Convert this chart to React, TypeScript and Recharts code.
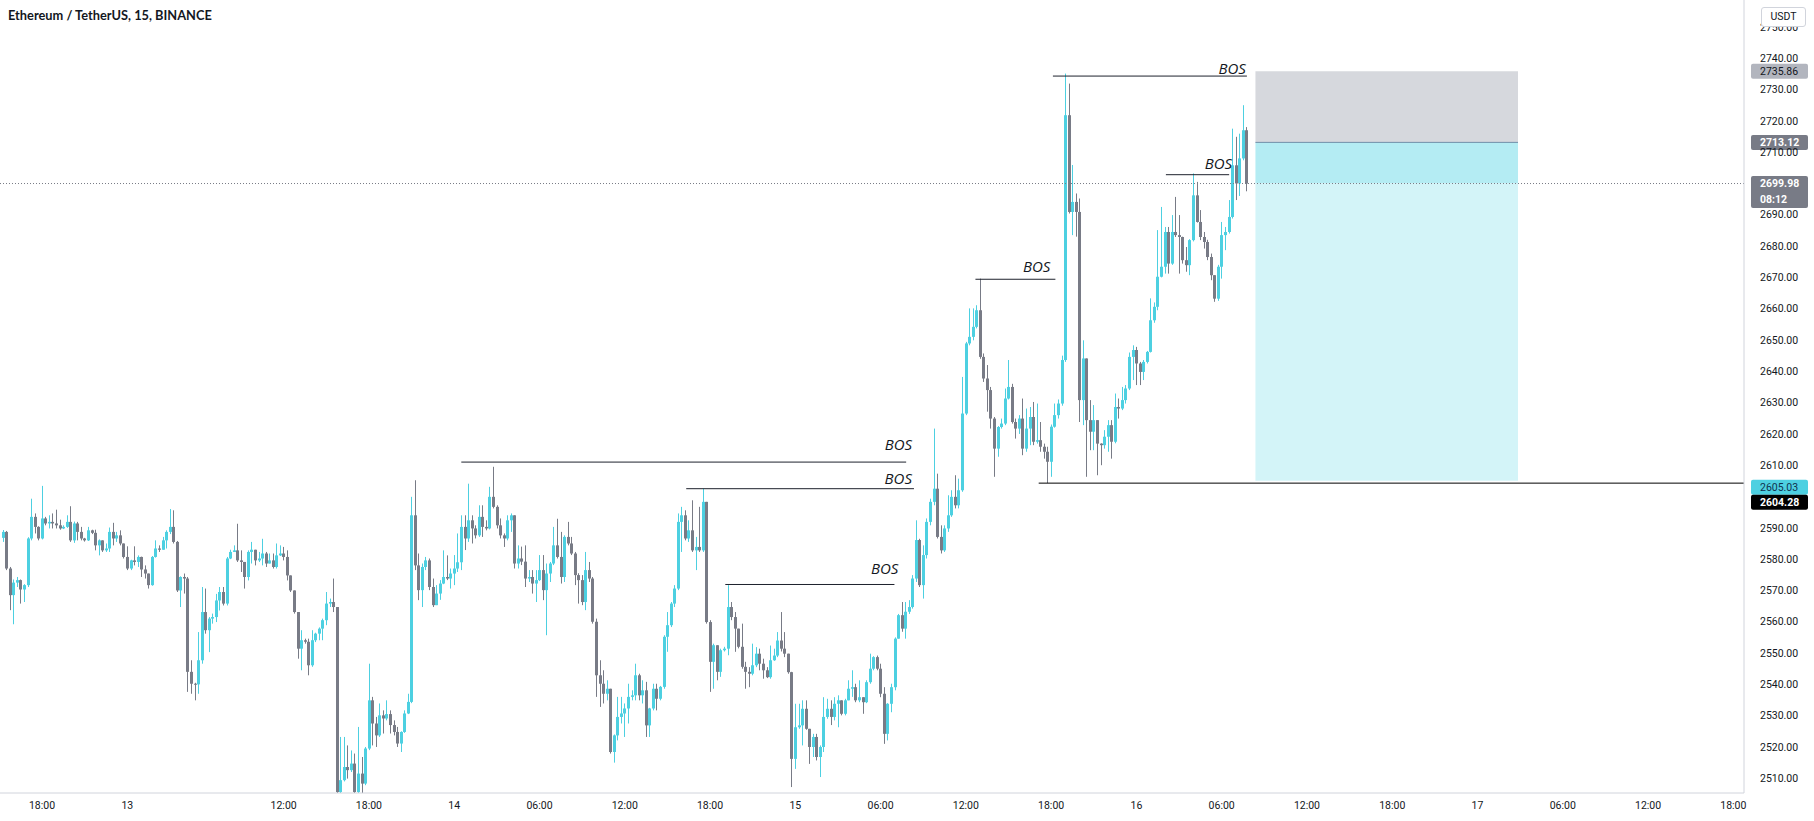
import { ComposedChart, Bar, XAxis, YAxis, ReferenceLine, ReferenceArea } from 'recharts';

// ETH/USDT 15m candles, one slot per candle (open = previous close)
const FIRST_OPEN = 2586.8;

const closes = [
  2588.7, 2577.0, 2568.5, 2572.5, 2573.3, 2570.3, 2571.7, 2586.6, 2593.5, 2590.3,
  2586.6, 2593.0, 2591.4, 2591.9, 2591.4, 2590.8, 2589.8, 2590.3, 2591.9, 2586.0,
  2591.4, 2588.7, 2586.6, 2586.0, 2589.2, 2588.4, 2584.4, 2586.0, 2582.8, 2583.4,
  2588.7, 2586.6, 2587.6, 2585.0, 2580.7, 2577.0, 2579.6, 2579.1, 2580.7, 2576.7,
  2575.4, 2571.7, 2580.7, 2583.4, 2583.0, 2586.0, 2588.7, 2590.3, 2585.5, 2570.0,
  2574.3, 2573.8, 2544.0, 2540.2, 2540.0, 2547.7, 2563.1, 2557.3, 2561.0, 2561.5,
  2566.8, 2569.5, 2565.8, 2580.2, 2582.3, 2582.8, 2579.6, 2579.1, 2574.3, 2582.3,
  2583.0, 2579.6, 2580.2, 2581.8, 2578.6, 2579.6, 2577.5, 2581.2, 2581.8, 2580.7,
  2574.8, 2570.0, 2563.1, 2551.4, 2554.1, 2553.6, 2546.1, 2554.1, 2556.2, 2557.8,
  2560.5, 2565.8, 2566.3, 2564.7, 2505.6, 2509.4, 2513.6, 2512.6, 2514.7, 2505.6,
  2511.5, 2508.3, 2519.5, 2534.9, 2527.5, 2523.7, 2530.1, 2529.1, 2530.5, 2527.0,
  2524.8, 2521.1, 2524.8, 2530.7, 2534.4, 2594.0, 2578.0, 2570.1, 2577.5, 2579.6,
  2571.1, 2565.3, 2569.0, 2572.2, 2574.3, 2573.8, 2575.4, 2577.0, 2579.0, 2590.3,
  2586.6, 2592.4, 2589.8, 2587.6, 2593.5, 2590.3, 2589.8, 2599.9, 2596.7, 2590.8,
  2587.6, 2586.6, 2592.4, 2594.0, 2578.6, 2580.2, 2579.2, 2573.8, 2574.3, 2572.2,
  2573.3, 2576.5, 2570.1, 2575.4, 2578.6, 2584.4, 2580.7, 2574.3, 2587.1, 2585.0,
  2581.8, 2574.9, 2573.3, 2566.3, 2576.5, 2573.8, 2560.0, 2542.9, 2540.2, 2537.0,
  2538.6, 2518.4, 2523.7, 2529.6, 2530.7, 2532.3, 2536.0, 2536.5, 2542.9, 2536.5,
  2538.1, 2526.9, 2532.3, 2538.6, 2535.4, 2539.2, 2555.2, 2558.9, 2565.8, 2570.6,
  2591.9, 2594.0, 2586.6, 2589.2, 2582.8, 2583.9, 2582.8, 2598.3, 2559.9, 2547.2,
  2552.5, 2544.0, 2550.9, 2551.4, 2564.7, 2561.5, 2557.8, 2552.0, 2545.6, 2544.0,
  2543.4, 2546.1, 2549.8, 2546.6, 2544.5, 2542.3, 2547.7, 2549.2, 2554.0, 2551.4,
  2549.8, 2543.9, 2516.2, 2526.3, 2526.9, 2532.2, 2525.8, 2520.0, 2523.2, 2516.8,
  2520.0, 2529.6, 2532.2, 2529.6, 2533.8, 2534.9, 2530.6, 2534.9, 2538.6, 2539.1,
  2534.9, 2535.9, 2534.3, 2540.7, 2545.0, 2548.7, 2545.0, 2537.0, 2524.2, 2533.8,
  2539.1, 2554.6, 2562.1, 2557.8, 2563.2, 2564.7, 2573.8, 2586.1, 2571.7, 2581.3,
  2591.9, 2598.3, 2602.5, 2587.1, 2582.8, 2589.8, 2594.0, 2599.9, 2597.2, 2602.0,
  2626.5, 2648.9, 2651.0, 2654.2, 2659.5, 2644.6, 2637.7, 2634.0, 2624.9, 2615.3,
  2622.2, 2623.3, 2631.3, 2635.0, 2623.8, 2621.7, 2624.9, 2615.3, 2621.7, 2625.4,
  2617.5, 2618.0, 2615.9, 2614.3, 2611.1, 2622.3, 2626.0, 2629.7, 2643.6, 2721.8,
  2690.9, 2694.1, 2690.9, 2630.8, 2644.1, 2624.4, 2620.7, 2624.4, 2616.9, 2616.4,
  2619.1, 2622.8, 2617.5, 2628.6, 2628.1, 2630.8, 2634.5, 2644.6, 2646.8, 2642.5,
  2639.8, 2643.0, 2646.2, 2656.3, 2660.6, 2670.2, 2673.4, 2684.5, 2674.4, 2684.5,
  2683.5, 2682.9, 2675.5, 2673.9, 2681.9, 2696.2, 2687.7, 2682.9, 2681.3, 2676.5,
  2670.7, 2663.2, 2673.4, 2683.5, 2684.5, 2689.3, 2705.8, 2700.0, 2708.0, 2717.0,
  2699.98,
];

const highs = [
  2589.3, 2589.0, 2577.5, 2573.5, 2574.3, 2573.5, 2572.0, 2587.0, 2599.3, 2594.6,
  2590.5, 2603.4, 2593.5, 2594.0, 2594.6, 2595.8, 2592.6, 2590.8, 2594.0, 2596.9,
  2592.0, 2591.9, 2590.3, 2586.8, 2590.3, 2589.4, 2589.4, 2586.3, 2586.0, 2585.0,
  2590.1, 2591.6, 2588.7, 2589.2, 2585.0, 2584.1, 2579.8, 2584.1, 2581.2, 2580.8,
  2578.0, 2575.4, 2581.0, 2586.0, 2584.4, 2587.1, 2589.2, 2596.0, 2595.6, 2585.8,
  2574.5, 2575.4, 2574.3, 2547.7, 2540.5, 2556.7, 2571.1, 2570.6, 2561.5, 2562.6,
  2568.9, 2571.1, 2571.1, 2580.7, 2583.0, 2584.4, 2591.3, 2582.8, 2579.1, 2582.8,
  2585.5, 2583.0, 2582.3, 2586.5, 2582.3, 2581.8, 2581.8, 2585.0, 2584.4, 2583.9,
  2582.8, 2574.8, 2570.0, 2563.1, 2557.3, 2554.6, 2554.6, 2557.3, 2556.5, 2558.2,
  2561.0, 2569.5, 2567.4, 2573.8, 2564.7, 2523.2, 2523.2, 2520.5, 2518.9, 2517.9,
  2526.4, 2516.8, 2520.0, 2546.6, 2536.0, 2529.6, 2533.9, 2531.7, 2534.9, 2531.7,
  2528.5, 2526.4, 2525.0, 2531.7, 2537.0, 2599.9, 2605.2, 2581.8, 2578.6, 2580.7,
  2580.2, 2573.8, 2571.7, 2573.3, 2582.8, 2581.2, 2577.0, 2581.3, 2588.2, 2594.0,
  2594.0, 2604.1, 2594.0, 2590.8, 2597.2, 2597.2, 2592.4, 2603.1, 2609.5, 2597.2,
  2593.0, 2588.2, 2594.0, 2594.6, 2593.0, 2584.4, 2584.0, 2584.4, 2576.5, 2576.5,
  2576.5, 2581.3, 2581.3, 2578.6, 2579.1, 2590.3, 2592.9, 2588.7, 2587.6, 2591.9,
  2587.1, 2582.3, 2575.5, 2574.9, 2582.3, 2579.1, 2574.3, 2561.0, 2547.7, 2544.5,
  2541.3, 2538.6, 2524.0, 2536.0, 2536.0, 2533.9, 2540.2, 2538.1, 2546.6, 2543.4,
  2541.3, 2540.8, 2532.5, 2540.2, 2540.2, 2539.5, 2555.7, 2563.1, 2566.3, 2571.7,
  2594.6, 2596.7, 2595.6, 2592.4, 2598.8, 2587.1, 2596.7, 2602.5, 2598.3, 2560.5,
  2553.0, 2552.5, 2551.4, 2552.0, 2571.7, 2566.3, 2563.1, 2557.8, 2559.4, 2547.2,
  2545.5, 2553.0, 2551.9, 2551.4, 2548.2, 2545.5, 2552.4, 2551.4, 2556.7, 2563.1,
  2556.7, 2549.8, 2544.0, 2533.8, 2533.8, 2534.9, 2534.9, 2525.8, 2524.2, 2524.2,
  2520.5, 2535.9, 2535.4, 2534.9, 2535.9, 2536.5, 2534.9, 2535.4, 2541.3, 2544.5,
  2540.2, 2541.3, 2535.9, 2541.3, 2549.8, 2549.0, 2549.2, 2546.6, 2539.1, 2534.0,
  2540.2, 2555.0, 2562.5, 2566.3, 2566.3, 2566.9, 2574.9, 2592.4, 2586.5, 2584.4,
  2593.0, 2599.3, 2621.7, 2607.3, 2590.8, 2590.8, 2600.4, 2602.0, 2606.8, 2605.7,
  2638.2, 2649.4, 2660.1, 2660.1, 2661.1, 2669.6, 2645.7, 2642.0, 2635.0, 2625.4,
  2622.5, 2624.9, 2634.5, 2643.6, 2636.0, 2624.9, 2626.0, 2631.3, 2628.1, 2628.6,
  2630.2, 2629.7, 2623.8, 2616.9, 2615.9, 2623.0, 2629.7, 2631.0, 2645.0, 2735.1,
  2731.9, 2705.9, 2696.8, 2695.2, 2649.9, 2644.1, 2630.8, 2629.2, 2624.4, 2617.0,
  2621.2, 2624.4, 2624.4, 2632.9, 2631.3, 2635.0, 2635.6, 2646.0, 2648.3, 2647.8,
  2643.0, 2643.6, 2646.5, 2663.3, 2662.0, 2685.1, 2692.5, 2686.1, 2686.1, 2689.9,
  2695.7, 2689.9, 2683.0, 2679.7, 2682.2, 2703.2, 2700.5, 2691.5, 2684.5, 2682.0,
  2677.6, 2670.7, 2674.0, 2687.7, 2686.1, 2694.7, 2717.5, 2714.9, 2715.9, 2725.0,
  2718.0,
];

const lows = [
  2585.5, 2576.5, 2563.7, 2559.2, 2571.1, 2565.8, 2566.3, 2571.1, 2586.0, 2588.2,
  2586.0, 2586.3, 2590.8, 2589.8, 2589.8, 2589.8, 2589.4, 2589.6, 2590.0, 2585.5,
  2585.2, 2586.0, 2586.0, 2585.6, 2585.8, 2588.0, 2582.8, 2581.2, 2582.3, 2582.3,
  2582.3, 2584.4, 2585.5, 2584.4, 2580.2, 2576.5, 2576.5, 2578.0, 2577.5, 2574.3,
  2573.8, 2570.6, 2571.5, 2580.5, 2582.3, 2583.0, 2583.4, 2588.0, 2585.0, 2569.5,
  2564.7, 2569.0, 2537.6, 2537.0, 2534.9, 2537.0, 2546.6, 2556.2, 2550.3, 2559.4,
  2559.9, 2563.6, 2565.2, 2565.2, 2580.0, 2582.3, 2579.1, 2575.9, 2570.6, 2573.2,
  2578.6, 2578.0, 2579.1, 2578.0, 2577.5, 2578.6, 2577.0, 2577.0, 2581.0, 2579.6,
  2573.2, 2569.5, 2562.6, 2548.2, 2544.5, 2553.0, 2542.9, 2545.6, 2553.5, 2554.1,
  2554.1, 2558.9, 2564.7, 2563.1, 2502.0, 2505.0, 2509.0, 2509.9, 2512.0, 2505.1,
  2505.1, 2505.1, 2507.8, 2519.0, 2520.5, 2520.0, 2523.2, 2524.3, 2528.5, 2524.3,
  2523.7, 2520.0, 2518.4, 2524.5, 2530.5, 2534.0, 2576.5, 2566.9, 2564.7, 2576.5,
  2570.1, 2564.7, 2565.3, 2567.0, 2572.0, 2573.3, 2570.6, 2571.7, 2575.9, 2576.5,
  2582.9, 2585.5, 2585.0, 2586.6, 2587.1, 2587.1, 2589.2, 2589.5, 2596.2, 2589.8,
  2586.6, 2583.9, 2586.0, 2588.7, 2577.0, 2577.0, 2578.1, 2571.1, 2572.7, 2569.0,
  2566.3, 2573.0, 2566.9, 2555.7, 2572.7, 2578.1, 2580.2, 2572.2, 2572.7, 2584.4,
  2581.3, 2571.7, 2565.8, 2565.3, 2563.7, 2572.7, 2559.4, 2536.0, 2532.8, 2533.9,
  2534.9, 2517.9, 2515.0, 2522.1, 2527.5, 2523.2, 2527.5, 2534.9, 2534.9, 2534.9,
  2533.9, 2523.2, 2523.2, 2531.7, 2531.7, 2534.9, 2538.6, 2550.4, 2558.3, 2564.7,
  2570.1, 2582.3, 2586.0, 2585.5, 2582.3, 2576.5, 2582.3, 2582.3, 2559.4, 2537.6,
  2538.6, 2541.3, 2542.4, 2550.5, 2549.3, 2560.5, 2550.4, 2551.5, 2545.0, 2538.6,
  2539.1, 2542.9, 2545.5, 2544.5, 2541.8, 2542.0, 2541.8, 2547.5, 2548.7, 2550.5,
  2548.7, 2543.4, 2507.2, 2513.0, 2525.8, 2520.5, 2525.5, 2514.6, 2516.8, 2515.7,
  2510.4, 2518.4, 2529.0, 2527.0, 2528.5, 2526.3, 2530.1, 2530.1, 2534.9, 2536.0,
  2534.3, 2534.3, 2530.6, 2534.0, 2540.2, 2544.5, 2544.5, 2535.9, 2521.0, 2522.1,
  2531.1, 2538.1, 2554.6, 2556.8, 2554.6, 2562.5, 2564.2, 2572.7, 2571.1, 2567.4,
  2580.2, 2590.8, 2597.2, 2586.6, 2581.8, 2582.3, 2588.7, 2593.5, 2596.2, 2596.2,
  2601.5, 2626.0, 2648.3, 2649.9, 2653.7, 2644.0, 2636.6, 2627.1, 2621.7, 2606.3,
  2612.7, 2621.7, 2622.8, 2631.0, 2623.3, 2618.5, 2620.0, 2613.2, 2614.3, 2616.4,
  2616.4, 2616.9, 2614.3, 2612.1, 2604.3, 2606.3, 2622.0, 2624.9, 2629.0, 2643.0,
  2690.4, 2683.5, 2683.0, 2623.8, 2622.8, 2606.3, 2614.8, 2614.8, 2606.8, 2610.0,
  2615.3, 2614.3, 2612.1, 2617.0, 2624.9, 2627.6, 2629.7, 2634.0, 2637.2, 2635.6,
  2635.6, 2637.2, 2642.5, 2646.0, 2655.5, 2659.5, 2670.0, 2671.2, 2671.2, 2674.0,
  2682.9, 2671.2, 2674.4, 2671.8, 2670.7, 2681.5, 2687.5, 2681.9, 2679.2, 2675.5,
  2669.1, 2662.2, 2662.5, 2669.6, 2678.7, 2684.0, 2688.8, 2694.7, 2696.0, 2707.4,
  2697.5,
];

// time axis: slot index of each label
const timeTicks = [12, 36, 80, 104, 128, 152, 176, 200, 224, 248, 272, 296, 320, 344, 368, 392, 416, 440, 464, 488];
const timeLabels = ['18:00', '13', '12:00', '18:00', '14', '06:00', '12:00', '18:00', '15', '06:00', '12:00', '18:00', '16', '06:00', '12:00', '18:00', '17', '06:00', '12:00', '18:00'];

const priceTicks = [2510, 2520, 2530, 2540, 2550, 2560, 2570, 2580, 2590, 2610, 2620, 2630, 2640, 2650, 2660, 2670, 2680, 2690, 2710, 2720, 2730, 2740, 2750];

// break-of-structure lines
const bosPrice = [2611.0, 2602.5, 2571.9, 2669.4, 2734.3, 2702.8];
const bosFrom = [130, 193.3, 204.3, 274.7, 296.5, 328.3];
const bosTo = [255.2, 257.4, 251.9, 297.2, 351.1, 346.1];

// position tool
const targetPrice = 2735.86;
const entryPrice = 2713.12;
const lastPrice = 2699.98;
const stopPrice = 2605.03;
const swingLow = 2604.28;
const boxFrom = 353.5;
const boxTo = 427.4;
const swingFrom = 292.5;
const countdown = '08:12';

const X_MIN = 0.17;
const X_MAX = 491.0;
const Y_MIN = 2505.3;
const Y_MAX = 2758.6;

const UP = '#4dd0e1';
const DOWN = '#787b86';
const TEXT = '#131722';
const FONT = 'Roboto, sans-serif';

const candles = closes.map((close, i) => {
  const open = i === 0 ? FIRST_OPEN : closes[i - 1];
  const high = Math.max(highs[i], open, close);
  const low = Math.min(lows[i], open, close);
  return { slot: i + 1, open, close, high, low, range: [low, high] };
});

const Candle = (props: any) => {
  const { x, y, width, height, payload } = props;
  if (!payload || x == null || y == null) return null;
  const { open, close, high, low } = payload;
  const top = Math.min(y, y + height);
  const h = Math.abs(height);
  const span = high - low || 1;
  const toY = (v: number) => top + ((high - v) / span) * h;
  const color = close >= open ? UP : DOWN;
  const cx = Math.round(x + width / 2);
  const bTop = toY(Math.max(open, close));
  const bBot = toY(Math.min(open, close));
  return (
    <g>
      <line x1={cx + 0.5} x2={cx + 0.5} y1={top} y2={top + h} stroke={color} strokeWidth={1} />
      <rect x={cx - 1} y={bTop} width={3} height={Math.max(1, bBot - bTop)} fill={color} />
    </g>
  );
};

const bosLabelDx = [6, -2, 4, -5, -1, 3];
const bosLabelDy = [12, 5, 10, 7, 2, 6];

const bosLabel = (i: number) => (props: any) => {
  const vb = props.viewBox || {};
  return (
    <text
      x={vb.x + vb.width + bosLabelDx[i]}
      y={vb.y - bosLabelDy[i]}
      textAnchor="end"
      fontSize={15}
      fontStyle="italic"
      fontFamily="'Open Sans', sans-serif"
      fill={TEXT}
    >
      BOS
    </text>
  );
};

const priceTag = (lines: string[], bg: string, fg: string, shift: number, bold = false) => (props: any) => {
  const vb = props.viewBox || {};
  const left = vb.x + vb.width + 7;
  const top = vb.y + shift - 7.5;
  const h = lines.length > 1 ? 32 : 15;
  return (
    <g>
      <rect x={left} y={top} width={57} height={h} rx={2} fill={bg} />
      {lines.map((t, k) => (
        <text
          key={k}
          x={left + 9}
          y={top + 7.5 + k * 16}
          dominantBaseline="central"
          fontSize={10.5}
          fontWeight={bold ? 700 : 400}
          fontFamily={FONT}
          fill={fg}
        >
          {t}
        </text>
      ))}
    </g>
  );
};

export default function App() {
  return (
    <div style={{ position: 'absolute', left: 0, top: 0, width: 1814, height: 821, background: '#fff' }}>
      <ComposedChart width={1814} height={821} data={candles} margin={{ top: 0, right: 0, bottom: 0, left: 0 }}>
        <XAxis
          type="number"
          dataKey="slot"
          domain={[X_MIN, X_MAX]}
          allowDataOverflow
          ticks={timeTicks}
          interval={0}
          tickFormatter={(v: number) => timeLabels[timeTicks.indexOf(v)] ?? ''}
          height={28}
          tickLine={false}
          tickSize={0}
          tickMargin={9}
          axisLine={{ stroke: '#d1d4dc' }}
          tick={{ fontSize: 10.5, fill: TEXT, fontFamily: FONT }}
        />
        <YAxis
          orientation="right"
          type="number"
          domain={[Y_MIN, Y_MAX]}
          allowDataOverflow
          ticks={priceTicks}
          interval={0}
          tickFormatter={(v: number) => v.toFixed(2)}
          width={70}
          tickLine={false}
          tickSize={0}
          tickMargin={16}
          axisLine={{ stroke: '#d1d4dc' }}
          tick={{ fontSize: 10.5, fill: TEXT, fontFamily: FONT }}
        />
        <ReferenceArea x1={boxFrom} x2={boxTo} y1={entryPrice} y2={targetPrice} fill="#d6d8dd" fillOpacity={1} stroke="none" />
        <ReferenceArea x1={boxFrom} x2={boxTo} y1={lastPrice} y2={entryPrice} fill="#b4ecf3" fillOpacity={1} stroke="none" />
        <ReferenceArea x1={boxFrom} x2={boxTo} y1={stopPrice} y2={lastPrice} fill="#d3f4f8" fillOpacity={1} stroke="none" />
        <ReferenceLine
          segment={[{ x: boxFrom, y: entryPrice }, { x: boxTo, y: entryPrice }]}
          stroke="#6f8fa8"
          strokeWidth={1}
        />
        <ReferenceLine y={lastPrice} stroke="#787b86" strokeDasharray="1 2" label={priceTag([lastPrice.toFixed(2), countdown], '#787b86', '#ffffff', 0, true)} />
        <ReferenceLine y={targetPrice} stroke="none" label={priceTag([targetPrice.toFixed(2)], '#b2b5be', TEXT, 0)} />
        <ReferenceLine y={entryPrice} stroke="none" label={priceTag([entryPrice.toFixed(2)], '#787b86', '#ffffff', 0, true)} />
        <ReferenceLine y={stopPrice} stroke="none" label={priceTag([stopPrice.toFixed(2)], '#4dd0e1', '#10324f', 6.4)} />
        <Bar dataKey="range" barSize={3} isAnimationActive={false} shape={(p: any) => <Candle {...p} />} />
        {bosPrice.map((p, i) => (
          <ReferenceLine
            key={i}
            segment={[{ x: bosFrom[i], y: p }, { x: bosTo[i], y: p }]}
            stroke="#1e222d"
            strokeWidth={1}
            label={bosLabel(i)}
          />
        ))}
        <ReferenceLine
          segment={[{ x: swingFrom, y: swingLow }, { x: X_MAX, y: swingLow }]}
          stroke="#000000"
          strokeWidth={1}
          label={priceTag([swingLow.toFixed(2)], '#000000', '#ffffff', 19, true)}
        />
      </ComposedChart>
      <div
        style={{
          position: 'absolute',
          left: 8,
          top: 7,
          fontFamily: 'Lato, sans-serif',
          fontWeight: 700,
          fontSize: 12.8,
          color: TEXT,
          whiteSpace: 'nowrap',
        }}
      >
        Ethereum / TetherUS, 15, BINANCE
      </div>
      <div
        style={{
          position: 'absolute',
          left: 1761,
          top: 7,
          width: 43,
          height: 18,
          border: '1px solid #d1d4dc',
          borderRadius: 3,
          background: '#fff',
          fontFamily: FONT,
          fontSize: 10.5,
          lineHeight: '18px',
          textAlign: 'center',
          color: TEXT,
        }}
      >
        USDT
      </div>
    </div>
  );
}
